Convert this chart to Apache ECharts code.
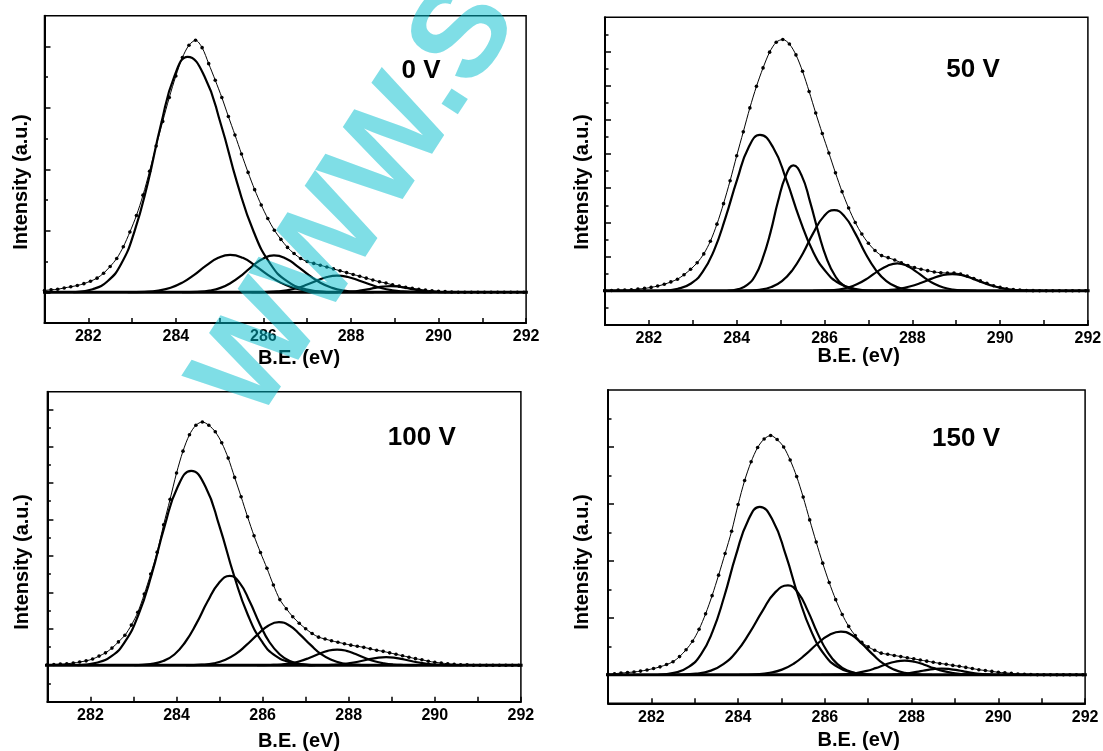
<!DOCTYPE html>
<html>
<head>
<meta charset="utf-8">
<title>C 1s XPS spectra</title>
<script src="https://cdn.jsdelivr.net/npm/echarts@6/dist/echarts.min.js"></script>
<style>
  html, body { margin: 0; padding: 0; background: #fff; }
  #chart { width: 1103px; height: 751px; }
</style>
</head>
<body>
<div id="chart"></div>
<script>
// ---- Data -------------------------------------------------------------
// Bias voltage of each spectrum
const biasLabels = ['0 V', '50 V', '100 V', '150 V'];
// Labelled binding-energy ticks (eV)
const energyTicks = [282, 284, 286, 288, 290, 292];

// Binding-energy grid of the measured points (eV)
const energy = [
  281.00, 281.15, 281.30, 281.45, 281.60, 281.75, 281.90, 282.05, 282.20, 282.35,
  282.50, 282.65, 282.80, 282.95, 283.10, 283.25, 283.40, 283.55, 283.70, 283.85,
  284.00, 284.15, 284.30, 284.45, 284.60, 284.75, 284.90, 285.05, 285.20, 285.35,
  285.50, 285.65, 285.80, 285.95, 286.10, 286.25, 286.40, 286.55, 286.70, 286.85,
  287.00, 287.15, 287.30, 287.45, 287.60, 287.75, 287.90, 288.05, 288.20, 288.35,
  288.50, 288.65, 288.80, 288.95, 289.10, 289.25, 289.40, 289.55, 289.70, 289.85,
  290.00, 290.15, 290.30, 290.45, 290.60, 290.75, 290.90, 291.05, 291.20, 291.35,
  291.50, 291.65, 291.80, 291.95
];

// Measured intensity (a.u.) on the grid above
const meas0V = [
  0.03, 0.04, 0.05, 0.07, 0.09, 0.11, 0.14, 0.18, 0.23, 0.31,
  0.42, 0.55, 0.74, 0.98, 1.25, 1.58, 1.97, 2.38, 2.78, 3.17,
  3.52, 3.82, 4.02, 4.10, 3.98, 3.72, 3.45, 3.17, 2.86, 2.56,
  2.25, 1.95, 1.67, 1.42, 1.20, 1.01, 0.86, 0.73, 0.63, 0.55,
  0.50, 0.47, 0.44, 0.41, 0.38, 0.35, 0.32, 0.29, 0.26, 0.23,
  0.20, 0.17, 0.15, 0.12, 0.10, 0.08, 0.065, 0.05, 0.035, 0.025,
  0.015, 0.01, 0.005, 0, 0, 0, 0, 0, 0, 0,
  0, 0, 0, 0
];
const meas50V = [
  0.01, 0.01, 0.02, 0.02, 0.03, 0.05, 0.07, 0.10, 0.14, 0.19,
  0.26, 0.34, 0.47, 0.63, 0.82, 1.08, 1.45, 1.95, 2.55, 3.22,
  3.95, 4.65, 5.35, 5.98, 6.52, 6.98, 7.27, 7.35, 7.22, 6.90,
  6.42, 5.83, 5.20, 4.60, 4.03, 3.45, 2.90, 2.42, 2.00, 1.66,
  1.39, 1.18, 1.03, 0.97, 0.90, 0.82, 0.74, 0.68, 0.63, 0.59,
  0.55, 0.53, 0.52, 0.52, 0.49, 0.43, 0.36, 0.29, 0.22, 0.15,
  0.10, 0.06, 0.035, 0.02, 0.01, 0.005, 0, 0, 0, 0,
  0, 0, 0, 0
];
const meas100V = [
  0.01, 0.02, 0.03, 0.04, 0.06, 0.09, 0.12, 0.17, 0.25, 0.34,
  0.47, 0.64, 0.82, 1.10, 1.45, 1.95, 2.50, 3.10, 3.85, 4.55,
  5.27, 5.87, 6.32, 6.58, 6.67, 6.58, 6.40, 6.10, 5.68, 5.15,
  4.62, 4.07, 3.55, 3.09, 2.66, 2.20, 1.80, 1.55, 1.33, 1.15,
  1.00, 0.87, 0.77, 0.72, 0.67, 0.63, 0.59, 0.55, 0.52, 0.49,
  0.45, 0.41, 0.38, 0.34, 0.30, 0.26, 0.22, 0.18, 0.15, 0.11,
  0.08, 0.06, 0.04, 0.025, 0.015, 0.01, 0, 0, 0, 0,
  0, 0, 0, 0
];
const meas150V = [
  0.01, 0.02, 0.03, 0.04, 0.05, 0.065, 0.085, 0.11, 0.14, 0.18,
  0.23, 0.32, 0.44, 0.59, 0.80, 1.07, 1.39, 1.75, 2.13, 2.52,
  2.99, 3.41, 3.74, 3.99, 4.14, 4.20, 4.13, 4.00, 3.77, 3.48,
  3.12, 2.72, 2.33, 1.96, 1.62, 1.32, 1.06, 0.85, 0.69, 0.57,
  0.49, 0.43, 0.38, 0.36, 0.34, 0.32, 0.30, 0.28, 0.26, 0.24,
  0.22, 0.20, 0.185, 0.165, 0.15, 0.13, 0.11, 0.09, 0.075, 0.06,
  0.045, 0.035, 0.025, 0.015, 0.01, 0.005, 0, 0, 0, 0,
  0, 0, 0, 0
];

// Fitted component peaks, [binding energy (eV), intensity (a.u.)]
const fit0V_a = [[281.66,0],[282.10,0.05],[282.44,0.18],[282.75,0.46],[283.05,0.98],[283.36,1.78],[283.66,2.73],[283.97,3.52],[284.27,3.83],[284.65,3.52],[285.03,2.73],[285.40,1.78],[285.78,0.98],[286.16,0.46],[286.54,0.18],[286.97,0.05],[287.51,0]];
const fit0V_b = [[282.90,0],[283.29,0.008],[283.60,0.029],[283.88,0.073],[284.15,0.157],[284.42,0.284],[284.69,0.434],[284.97,0.56],[285.24,0.61],[285.53,0.56],[285.81,0.434],[286.10,0.284],[286.39,0.157],[286.68,0.073],[286.96,0.029],[287.29,0.008],[287.70,0]];
const fit0V_c = [[284.14,0],[284.49,0.008],[284.77,0.028],[285.02,0.072],[285.26,0.154],[285.51,0.28],[285.75,0.427],[286.00,0.551],[286.24,0.60],[286.51,0.551],[286.77,0.427],[287.04,0.28],[287.30,0.154],[287.57,0.072],[287.84,0.028],[288.14,0.008],[288.52,0]];
const fit0V_d = [[285.73,0],[286.06,0.004],[286.32,0.013],[286.54,0.032],[286.77,0.069],[287.00,0.126],[287.23,0.192],[287.45,0.248],[287.68,0.27],[287.93,0.248],[288.18,0.192],[288.44,0.126],[288.69,0.069],[288.94,0.032],[289.19,0.013],[289.48,0.004],[289.84,0]];
const fit0V_e = [[287.40,0],[287.65,0.001],[287.85,0.005],[288.03,0.012],[288.20,0.026],[288.38,0.047],[288.55,0.071],[288.73,0.092],[288.90,0.10],[289.08,0.092],[289.25,0.071],[289.43,0.047],[289.60,0.026],[289.78,0.012],[289.95,0.005],[290.15,0.001],[290.40,0]];

const fit50V_a = [[282.28,0],[282.66,0.059],[282.96,0.214],[283.22,0.547],[283.48,1.17],[283.74,2.12],[284.01,3.25],[284.27,4.19],[284.53,4.56],[284.83,4.19],[285.13,3.25],[285.43,2.12],[285.73,1.17],[286.04,0.547],[286.34,0.214],[286.68,0.059],[287.11,0]];
const fit50V_b = [[283.79,0],[284.04,0.048],[284.24,0.172],[284.42,0.44],[284.59,0.943],[284.77,1.71],[284.94,2.61],[285.12,3.37],[285.29,3.67],[285.48,3.37],[285.67,2.61],[285.86,1.71],[286.05,0.943],[286.24,0.44],[286.42,0.172],[286.64,0.048],[286.91,0]];
const fit50V_c = [[284.18,0],[284.52,0.031],[284.79,0.111],[285.03,0.283],[285.27,0.607],[285.51,1.10],[285.74,1.68],[285.98,2.17],[286.22,2.36],[286.46,2.17],[286.70,1.68],[286.93,1.10],[287.17,0.607],[287.41,0.283],[287.65,0.111],[287.92,0.031],[288.26,0]];
const fit50V_d = [[285.74,0],[286.06,0.010],[286.32,0.038],[286.54,0.096],[286.76,0.206],[286.99,0.373],[287.21,0.57],[287.44,0.735],[287.66,0.80],[287.87,0.735],[288.08,0.57],[288.29,0.373],[288.50,0.206],[288.71,0.096],[288.92,0.038],[289.16,0.010],[289.46,0]];
const fit50V_e = [[286.84,0],[287.19,0.006],[287.46,0.023],[287.70,0.059],[287.94,0.126],[288.19,0.228],[288.43,0.349],[288.67,0.45],[288.91,0.49],[289.15,0.45],[289.39,0.349],[289.63,0.228],[289.88,0.126],[290.12,0.059],[290.36,0.023],[290.64,0.006],[290.98,0]];

const fit100V_a = [[281.70,0],[282.14,0.069],[282.49,0.25],[282.80,0.64],[283.11,1.37],[283.42,2.48],[283.72,3.80],[284.03,4.90],[284.34,5.33],[284.67,4.90],[285.00,3.80],[285.33,2.48],[285.66,1.37],[285.99,0.64],[286.31,0.25],[286.69,0.069],[287.16,0]];
const fit100V_b = [[283.02,0],[283.39,0.032],[283.69,0.115],[283.95,0.294],[284.20,0.63],[284.46,1.14],[284.72,1.745],[284.98,2.25],[285.24,2.45],[285.47,2.25],[285.70,1.745],[285.93,1.14],[286.16,0.63],[286.40,0.294],[286.63,0.115],[286.89,0.032],[287.22,0]];
const fit100V_c = [[284.22,0],[284.58,0.015],[284.87,0.055],[285.12,0.142],[285.37,0.303],[285.62,0.55],[285.88,0.84],[286.13,1.084],[286.38,1.18],[286.63,1.084],[286.87,0.84],[287.12,0.55],[287.36,0.303],[287.61,0.142],[287.85,0.055],[288.13,0.015],[288.48,0]];
const fit100V_d = [[285.87,0],[286.18,0.006],[286.43,0.020],[286.65,0.052],[286.86,0.11],[287.08,0.20],[287.30,0.306],[287.51,0.395],[287.73,0.43],[287.95,0.395],[288.16,0.306],[288.38,0.20],[288.60,0.11],[288.82,0.052],[289.03,0.020],[289.28,0.006],[289.59,0]];
const fit100V_e = [[287.07,0],[287.37,0.003],[287.61,0.010],[287.82,0.026],[288.03,0.057],[288.24,0.103],[288.45,0.157],[288.66,0.202],[288.87,0.22],[289.08,0.202],[289.29,0.157],[289.50,0.103],[289.71,0.057],[289.92,0.026],[290.13,0.010],[290.37,0.003],[290.67,0]];

const fit150V_a = [[282.16,0],[282.55,0.038],[282.86,0.139],[283.14,0.354],[283.41,0.758],[283.68,1.375],[283.95,2.10],[284.23,2.71],[284.50,2.95],[284.80,2.71],[285.10,2.10],[285.39,1.375],[285.69,0.758],[285.99,0.354],[286.29,0.139],[286.63,0.038],[287.05,0]];
const fit150V_b = [[282.60,0],[283.03,0.020],[283.37,0.074],[283.66,0.188],[283.96,0.403],[284.26,0.732],[284.56,1.118],[284.85,1.443],[285.15,1.57],[285.38,1.443],[285.61,1.118],[285.83,0.732],[286.06,0.403],[286.29,0.188],[286.52,0.074],[286.78,0.020],[287.10,0]];
const fit150V_c = [[284.03,0],[284.42,0.010],[284.73,0.036],[285.01,0.091],[285.28,0.195],[285.55,0.354],[285.82,0.541],[286.10,0.698],[286.37,0.76],[286.62,0.698],[286.86,0.541],[287.11,0.354],[287.35,0.195],[287.60,0.091],[287.84,0.036],[288.12,0.010],[288.47,0]];
const fit150V_d = [[285.92,0],[286.24,0.003],[286.50,0.012],[286.72,0.030],[286.94,0.064],[287.17,0.117],[287.39,0.178],[287.62,0.23],[287.84,0.25],[288.06,0.23],[288.29,0.178],[288.51,0.117],[288.74,0.064],[288.96,0.030],[289.18,0.012],[289.44,0.003],[289.76,0]];
const fit150V_e = [[287.04,0],[287.32,0.001],[287.54,0.005],[287.73,0.013],[287.92,0.028],[288.11,0.051],[288.31,0.078],[288.50,0.101],[288.69,0.11],[288.88,0.101],[289.08,0.078],[289.27,0.051],[289.46,0.028],[289.65,0.013],[289.85,0.005],[290.07,0.001],[290.34,0]];

// Zero-intensity reference line, slightly overhanging the frame on the left
const baselineSpan = [280.84, 292.04];

const measured = [meas0V, meas50V, meas100V, meas150V];
const components = [
  [fit0V_a, fit0V_b, fit0V_c, fit0V_d, fit0V_e],
  [fit50V_a, fit50V_b, fit50V_c, fit50V_d, fit50V_e],
  [fit100V_a, fit100V_b, fit100V_c, fit100V_d, fit100V_e],
  [fit150V_a, fit150V_b, fit150V_c, fit150V_d, fit150V_e]
];

// ---- Layout -----------------------------------------------------------
const FONT = '"Liberation Sans", Arial, Helvetica, sans-serif';
const panels = [
  { left: 44.5,  top: 15.7,  width: 481.6, height: 307.3, yMin: -0.5, yMax: 4.5, label: [421, 71],      yTitle: [21, 182],   xTitle: [299, 358.5] },
  { left: 605,   top: 17.3,  width: 482.9, height: 307.7, yMin: -1,   yMax: 8,   label: [973, 70],      yTitle: [582, 182],  xTitle: [858.7, 356.5] },
  { left: 47.4,  top: 391.7, width: 473.5, height: 310,   yMin: -1,   yMax: 7.5, label: [421.8, 437.5], yTitle: [22.8, 562], xTitle: [299, 741.5] },
  { left: 608,   top: 390,   width: 477.1, height: 313.3, yMin: -0.5, yMax: 5,   label: [966, 438.5],   yTitle: [582, 562],  xTitle: [858.7, 740] }
];

const grid = [], xAxis = [], yAxis = [], series = [], graphic = [];

panels.forEach((p, i) => {
  grid.push({
    left: p.left, top: p.top, width: p.width, height: p.height,
    containLabel: false, outerBoundsMode: 'none',
    show: true, borderColor: '#000', borderWidth: 1.5, backgroundColor: 'transparent'
  });

  xAxis.push({
    type: 'value', gridIndex: i, min: 281, max: 292, interval: 1,
    axisLine: { show: true, onZero: false, lineStyle: { color: '#000', width: 2 } },
    axisTick: { show: true, inside: true, length: 5, lineStyle: { color: '#000', width: 1.5 } },
    axisLabel: {
      show: true, margin: 6, color: '#000', fontSize: 16, fontWeight: 'bold', fontFamily: FONT,
      formatter: v => (energyTicks.indexOf(v) >= 0 ? String(v) : '')
    },
    splitLine: { show: false }
  });

  // major and minor intensity ticks (no labels: arbitrary units)
  const majors = [], minors = [];
  for (let v = Math.ceil(p.yMin); v <= p.yMax + 1e-9; v += 1) if (v > p.yMin && v < p.yMax) majors.push(v);
  for (let v = Math.floor(p.yMin) + 0.5; v < p.yMax; v += 1) if (v > p.yMin + 1e-9 && v < p.yMax - 1e-9) minors.push(v);

  yAxis.push({
    type: 'value', gridIndex: i, min: p.yMin, max: p.yMax, position: 'left',
    axisLine: { show: true, onZero: false, lineStyle: { color: '#000', width: 2 } },
    axisTick: { show: true, inside: true, length: 6, customValues: majors, lineStyle: { color: '#000', width: 1.5 } },
    axisLabel: { show: false },
    splitLine: { show: false }
  });
  yAxis.push({
    type: 'value', gridIndex: i, min: p.yMin, max: p.yMax, position: 'left', offset: 0,
    axisLine: { show: false, onZero: false },
    axisTick: { show: true, inside: true, length: 3.5, customValues: minors, lineStyle: { color: '#000', width: 1.5 } },
    axisLabel: { show: false },
    splitLine: { show: false }
  });

  // zero line
  series.push({
    type: 'line', xAxisIndex: i, yAxisIndex: 2 * i, clip: false, silent: true,
    data: [[baselineSpan[0], 0], [baselineSpan[1], 0]],
    showSymbol: false, lineStyle: { color: '#000', width: 3 }, z: 2
  });

  // fitted components
  components[i].forEach(comp => {
    series.push({
      type: 'line', xAxisIndex: i, yAxisIndex: 2 * i, data: comp,
      smooth: 0.5, showSymbol: false, silent: true,
      lineStyle: { color: '#000', width: 2.2 }, z: 3
    });
  });

  // measured points with the overall fit line through them
  series.push({
    type: 'line', xAxisIndex: i, yAxisIndex: 2 * i,
    data: energy.map((e, k) => [e, measured[i][k]]),
    smooth: 0.3, showSymbol: true, showAllSymbol: true, symbol: 'circle', symbolSize: 3.6,
    itemStyle: { color: '#000' }, lineStyle: { color: '#000', width: 1 }, silent: true, z: 4
  });

  graphic.push({
    type: 'text', x: p.label[0], y: p.label[1], z: 50,
    style: { text: biasLabels[i], font: 'bold 26px ' + FONT, fill: '#000',
             align: 'center', verticalAlign: 'middle', textAlign: 'center', textVerticalAlign: 'middle' }
  });
  graphic.push({
    type: 'text', x: p.yTitle[0], y: p.yTitle[1], rotation: Math.PI / 2, z: 50,
    style: { text: 'Intensity (a.u.)', font: 'bold 20px ' + FONT, fill: '#000',
             align: 'center', verticalAlign: 'middle', textAlign: 'center', textVerticalAlign: 'middle' }
  });
  graphic.push({
    type: 'text', x: p.xTitle[0], y: p.xTitle[1], z: 50,
    style: { text: 'B.E. (eV)', font: 'bold 20px ' + FONT, fill: '#000',
             align: 'center', verticalAlign: 'middle', textAlign: 'center', textVerticalAlign: 'middle' }
  });
});

// translucent diagonal site stamp drawn over the plots
graphic.push({
  type: 'text', x: 358, y: 202, rotation: 57 * Math.PI / 180, z: 100,
  style: { text: 'WWW.S', font: 'bold 130px ' + FONT, fill: 'rgba(0,190,205,0.5)',
           align: 'center', verticalAlign: 'middle', textAlign: 'center', textVerticalAlign: 'middle' }
});

const chart = echarts.init(document.getElementById('chart'), null, { renderer: 'canvas' });
chart.setOption({
  backgroundColor: '#fff',
  animation: false,
  grid, xAxis, yAxis, series, graphic
});
</script>
</body>
</html>
